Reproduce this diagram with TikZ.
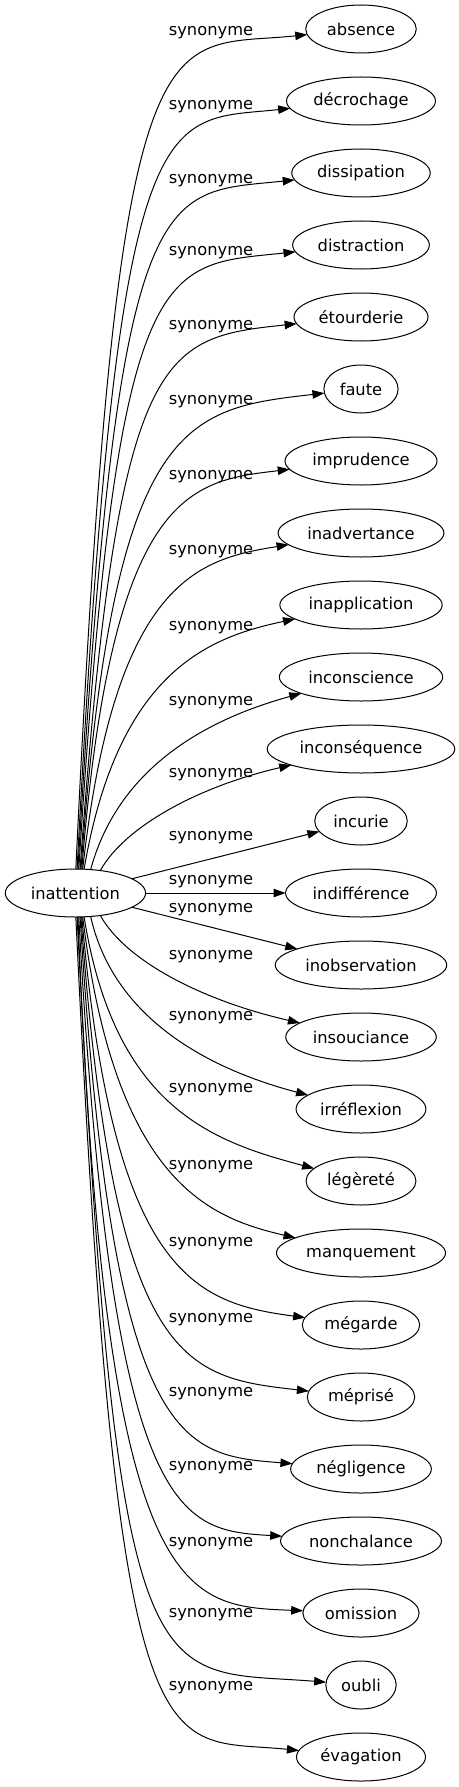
\documentclass[tikz,border=0pt]{standalone}
\usepackage{fontspec}
\setmainfont{DejaVu Sans}
\usetikzlibrary{arrows.meta, positioning, shapes.geometric}
\tikzset{word/.style={ellipse, draw, line width=1pt, minimum height=48pt, inner xsep=5pt, outer sep=0pt, font=\fontsize{16.3}{19}\selectfont}}
\tikzset{syn/.style={inner sep=0pt, font=\fontsize{16.3}{19}\selectfont}}

\begin{document}
\begin{tikzpicture}[x=1pt, y=1pt, >={Triangle[length=12pt, width=8.5pt]}, line width=1pt, node distance=24pt]
\useasboundingbox (0,0) rectangle (458,-1787);
\node[word] at (361,-29) (absence) {absence};
\node[word, below=of absence] (decrochage) {décrochage};
\node[word, below=of decrochage] (dissipation) {dissipation};
\node[word, below=of dissipation] (distraction) {distraction};
\node[word, below=of distraction] (etourderie) {étourderie};
\node[word, below=of etourderie] (faute) {faute};
\node[word, below=of faute] (imprudence) {imprudence};
\node[word, below=of imprudence] (inadvertance) {inadvertance};
\node[word, below=of inadvertance] (inapplication) {inapplication};
\node[word, below=of inapplication] (inconscience) {inconscience};
\node[word, below=of inconscience] (inconsequence) {inconséquence};
\node[word, below=of inconsequence] (incurie) {incurie};
\node[word, below=of incurie] (indifference) {indifférence};
\node[word, below=of indifference] (inobservation) {inobservation};
\node[word, below=of inobservation] (insouciance) {insouciance};
\node[word, below=of insouciance] (irreflexion) {irréflexion};
\node[word, below=of irreflexion] (legerete) {légèreté};
\node[word, below=of legerete] (manquement) {manquement};
\node[word, below=of manquement] (megarde) {mégarde};
\node[word, below=of megarde] (meprise) {méprisé};
\node[word, below=of meprise] (negligence) {négligence};
\node[word, below=of negligence] (nonchalance) {nonchalance};
\node[word, below=of nonchalance] (omission) {omission};
\node[word, below=of omission] (oubli) {oubli};
\node[word, below=of oubli] (evagation) {évagation};
\node[word, left=140pt of indifference] (inattention) {inattention};
% edges to the upper words
\draw [->] (inattention.89) .. controls (118,15) and (160,-50) .. (absence) node[syn] at (211,-33) {synonyme};
\draw [->] (inattention.86) .. controls (118,-86) and (160,-122) .. (decrochage) node[syn] at (211,-107) {synonyme};
\draw [->] (inattention.84) .. controls (118,-168) and (160,-194) .. (dissipation) node[syn] at (211,-181) {synonyme};
\draw [->] (inattention.82) .. controls (118,-250) and (160,-266) .. (distraction) node[syn] at (211,-253) {synonyme};
\draw [->] (inattention.79) .. controls (118,-347) and (160,-338) .. (etourderie) node[syn] at (211,-327) {synonyme};
\draw [->] (inattention.77) .. controls (114,-419) and (184,-409) .. (faute) node[syn] at (211,-402) {synonyme};
\draw [->] (inattention.75) .. controls (112,-490) and (190,-481) .. (imprudence) node[syn] at (211,-477) {synonyme};
\draw [->] (inattention.73) .. controls (115,-578) and (200,-559) .. (inadvertance) node[syn] at (211,-552) {synonyme};
\draw [->] (inattention.70) .. controls (118,-670) and (210,-637) .. (inapplication) node[syn] at (211,-628) {synonyme};
\draw [->] (inattention.57) .. controls (120,-762) and (215,-717) .. (inconscience) node[syn] at (211,-703) {synonyme};
\draw [->] (inattention.42) .. controls (125,-826) and (200,-786) .. (inconsequence) node[syn] at (211,-775) {synonyme};
% edges in the middle
\draw [->] (inattention) -- (incurie) node[syn] at (211,-838) {synonyme};
\draw [->] (inattention) -- (indifference) node[syn] at (211,-882) {synonyme};
\draw [->] (inattention) -- (inobservation) node[syn] at (211,-910) {synonyme};
% edges to the lower words
\draw [->] (inattention.318) .. controls (125,-960) and (200,-1000) .. (insouciance) node[syn] at (211,-957) {synonyme};
\draw [->] (inattention.303) .. controls (115,-1025) and (220,-1072) .. (irreflexion) node[syn] at (211,-1018) {synonyme};
\draw [->] (inattention.290) .. controls (115,-1110) and (215,-1142) .. (legerete) node[syn] at (211,-1090) {synonyme};
\draw [->] (inattention.287) .. controls (115,-1183) and (210,-1218) .. (manquement) node[syn] at (211,-1167) {synonyme};
\draw [->] (inattention.285) .. controls (113,-1275) and (195,-1303) .. (megarde) node[syn] at (211,-1244) {synonyme};
\draw [->] (inattention.283) .. controls (114,-1367) and (184,-1377) .. (meprise) node[syn] at (211,-1320) {synonyme};
\draw [->] (inattention.281) .. controls (113,-1450) and (182,-1455) .. (negligence) node[syn] at (211,-1394) {synonyme};
\draw [->] (inattention.278) .. controls (112,-1525) and (180,-1530) .. (nonchalance) node[syn] at (211,-1468) {synonyme};
\draw [->] (inattention.276) .. controls (105,-1605) and (182,-1606) .. (omission) node[syn] at (211,-1544) {synonyme};
\draw [->] (inattention.274) .. controls (118,-1720) and (150,-1668) .. (oubli) node[syn] at (211,-1615) {synonyme};
\draw [->] (inattention.271) .. controls (118,-1800) and (160,-1736) .. (evagation) node[syn] at (211,-1688) {synonyme};
\end{tikzpicture}
\end{document}
